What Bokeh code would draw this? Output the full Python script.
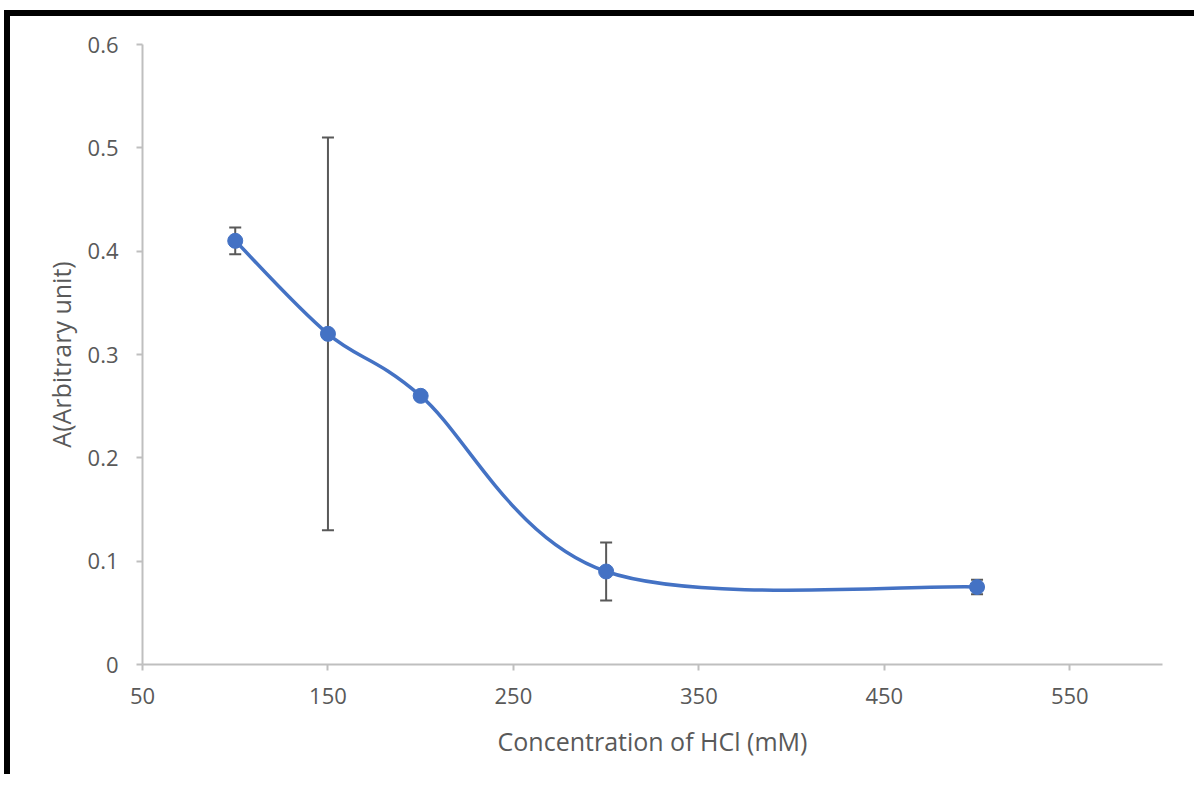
from bokeh.plotting import figure
from bokeh.models import Range1d, FixedTicker, Whisker, ColumnDataSource, TeeHead
from bokeh.embed import file_html
from bokeh.resources import INLINE

# ---- data ----
conc = [100, 150, 200, 300, 500]
absorb = [0.41, 0.32, 0.26, 0.09, 0.075]
err = [0.013, 0.19, 0.0, 0.028, 0.007]
x_ticks = [50, 150, 250, 350, 450, 550]
y_ticks = [0, 0.1, 0.2, 0.3, 0.4, 0.5, 0.6]
y_labels = ["0", "0.1", "0.2", "0.3", "0.4", "0.5", "0.6"]
x_title = "Concentration of HCl (mM)"
y_title = "A(Arbitrary unit)"

BLUE = "#4472C4"
GRAY = "#595959"
AXIS = "#BFBFBF"
FONT = "Open Sans"

p = figure(width=1190, height=764, output_backend="svg", toolbar_location=None,
           x_range=Range1d(50, 600), y_range=Range1d(0, 0.6),
           min_border_left=132, min_border_right=38, min_border_top=28, min_border_bottom=116,
           styles={"border-top": "6px solid black", "border-left": "6px solid black",
                   "margin-top": "10px", "margin-left": "4px"})
p.outline_line_color = None
p.xgrid.visible = False
p.ygrid.visible = False

# Excel-style smoothed line (Catmull-Rom Bezier segments computed from the data)
n = len(conc)
x0, y0, x1, y1, cx0, cy0, cx1, cy1 = [], [], [], [], [], [], [], []
for i in range(n - 1):
    pm = max(i - 1, 0)
    pn = min(i + 2, n - 1)
    x0.append(conc[i]); y0.append(absorb[i])
    x1.append(conc[i + 1]); y1.append(absorb[i + 1])
    cx0.append(conc[i] + (conc[i + 1] - conc[pm]) / 6)
    cy0.append(absorb[i] + (absorb[i + 1] - absorb[pm]) / 6)
    cx1.append(conc[i + 1] - (conc[pn] - conc[i]) / 6)
    cy1.append(absorb[i + 1] - (absorb[pn] - absorb[i]) / 6)

# error bars (below markers)
src = ColumnDataSource(dict(x=conc, y=absorb,
                            lo=[a - e for a, e in zip(absorb, err)],
                            hi=[a + e for a, e in zip(absorb, err)]))
w = Whisker(source=src, base="x", lower="lo", upper="hi", line_color=GRAY, line_width=2,
            level="underlay",
            upper_head=TeeHead(size=12, line_color=GRAY, line_width=2),
            lower_head=TeeHead(size=12, line_color=GRAY, line_width=2))
p.add_layout(w)

p.bezier(x0=x0, y0=y0, x1=x1, y1=y1, cx0=cx0, cy0=cy0, cx1=cx1, cy1=cy1,
         line_color=BLUE, line_width=3.5)
p.scatter(x="x", y="y", source=src, size=15, fill_color=BLUE, line_color=BLUE)

# axes
p.xaxis.ticker = FixedTicker(ticks=x_ticks)
p.yaxis.ticker = FixedTicker(ticks=y_ticks)
p.yaxis.major_label_overrides = {t: l for t, l in zip(y_ticks, y_labels)}
for ax in (p.xaxis[0], p.yaxis[0]):
    ax.axis_line_color = AXIS
    ax.axis_line_width = 2
    ax.major_tick_line_color = AXIS
    ax.major_tick_line_width = 2
    ax.major_tick_out = 6
    ax.major_tick_in = 0
    ax.minor_tick_line_color = None
    ax.major_label_text_font = FONT
    ax.major_label_text_font_size = "22px"
    ax.major_label_text_color = GRAY
    ax.axis_label_text_font = FONT
    ax.axis_label_text_font_size = "25px"
    ax.axis_label_text_color = GRAY
    ax.axis_label_text_font_style = "normal"

p.xaxis.major_label_standoff = 17
p.yaxis.major_label_standoff = 18
p.xaxis.axis_label = x_title
p.yaxis.axis_label = y_title
p.xaxis.axis_label_standoff = 17
p.yaxis.axis_label_standoff = 7

open("out.html", "w").write(file_html(p, INLINE))
